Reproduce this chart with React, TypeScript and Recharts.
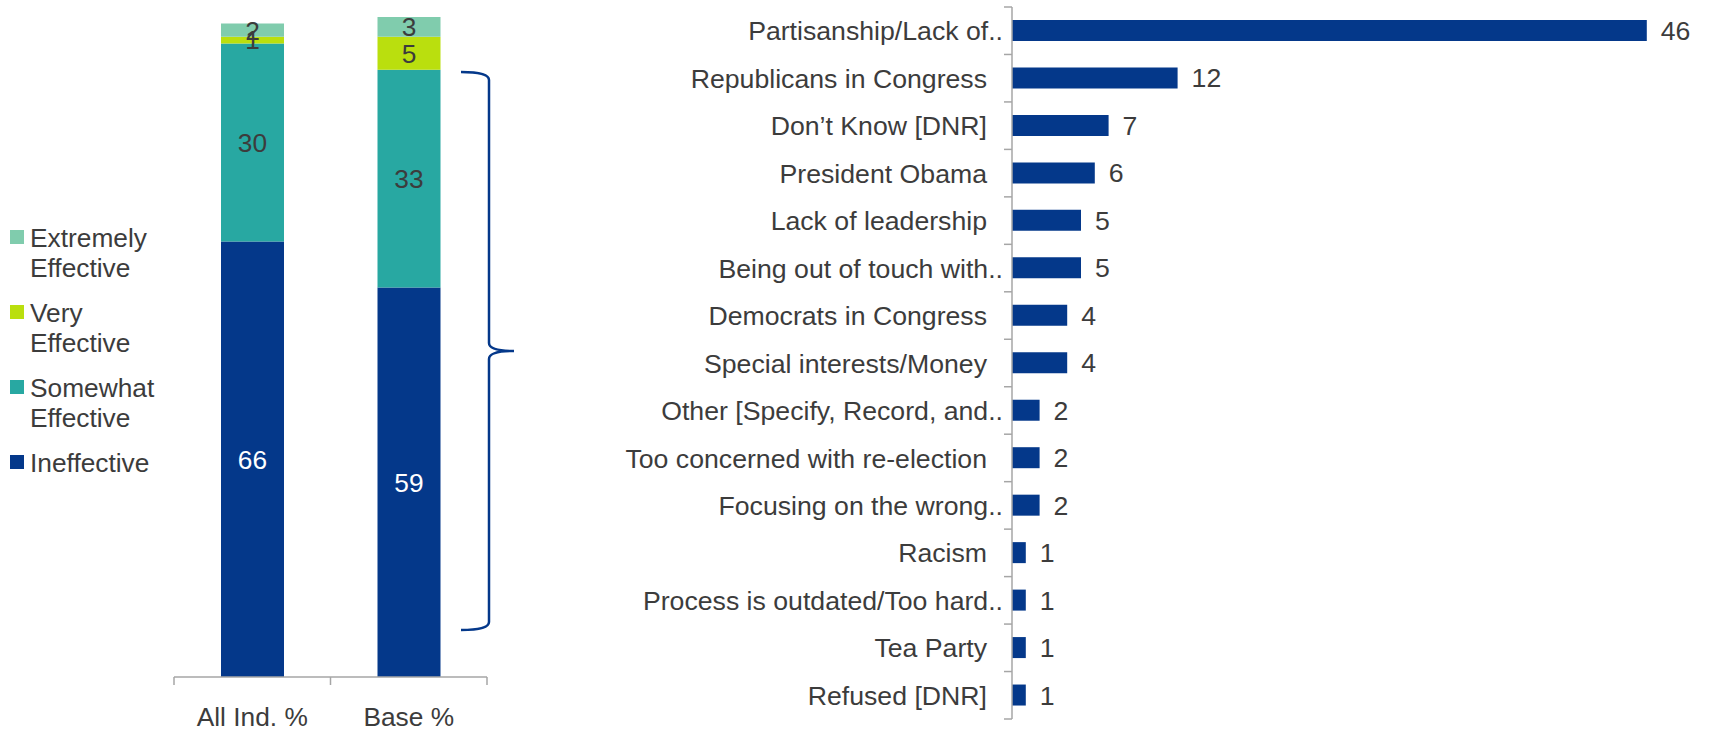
import React from 'react';
import { BarChart, Bar, XAxis, YAxis, LabelList } from 'recharts';

// ---- Left chart data ----
const groups = ['All Ind. %', 'Base %'];
const ineffective = [66, 59];
const somewhat = [30, 33];
const very = [1, 5];
const extremely = [2, 3];

const seriesNames = ['Extremely Effective', 'Very Effective', 'Somewhat Effective', 'Ineffective'];
const seriesLines = [['Extremely', 'Effective'], ['Very', 'Effective'], ['Somewhat', 'Effective'], ['Ineffective']];
const seriesColors = ['#80CCAD', '#BADF0E', '#28A8A2', '#04388A'];

// ---- Right chart data ----
const reasons = [
  'Partisanship/Lack of..',
  'Republicans in Congress',
  'Don\u2019t Know [DNR]',
  'President Obama',
  'Lack of leadership',
  'Being out of touch with..',
  'Democrats in Congress',
  'Special interests/Money',
  'Other [Specify, Record, and..',
  'Too concerned with re-election',
  'Focusing on the wrong..',
  'Racism',
  'Process is outdated/Too hard..',
  'Tea Party',
  'Refused [DNR]',
];
const reasonValues = [46, 12, 7, 6, 5, 5, 4, 4, 2, 2, 2, 1, 1, 1, 1];

const leftData = groups.map((g, i) => ({
  name: g,
  ineffective: ineffective[i],
  somewhat: somewhat[i],
  very: very[i],
  extremely: extremely[i],
}));
const rightData = reasons.map((r, i) => ({ name: r, value: reasonValues[i] }));

const FONT = '"Liberation Sans", Arial, sans-serif';
const TEXT = '#3C3C3C';
const AXIS = '#A6A6A6';
const FS_LEFT = 26.3;
const FS_RIGHT = 26.67;

const LEFT_W = 520;
const LEFT_H = 735;
const LEFT_MARGIN = { top: 17, right: 33, left: 174, bottom: 18 };
const LEFT_HALF_BAND = (LEFT_W - LEFT_MARGIN.left - LEFT_MARGIN.right) / groups.length / 2;

const RIGHT_W = 1169;
const RIGHT_H = 735;
const RIGHT_MARGIN = { top: 7, right: 7, left: 0, bottom: 16 };
const RIGHT_BAND = (RIGHT_H - RIGHT_MARGIN.top - RIGHT_MARGIN.bottom) / reasons.length;

const LeftTick = (props: any) => {
  const { x, y, payload, index } = props;
  return (
    <g>
      <line x1={x - LEFT_HALF_BAND} y1={y} x2={x - LEFT_HALF_BAND} y2={y + 8} stroke={AXIS} strokeWidth={1.5} />
      {index === groups.length - 1 && (
        <line x1={x + LEFT_HALF_BAND} y1={y} x2={x + LEFT_HALF_BAND} y2={y + 8} stroke={AXIS} strokeWidth={1.5} />
      )}
      <text x={x} y={y + 49} textAnchor="middle" fill={TEXT} fontSize={FS_LEFT} fontFamily={FONT}>
        {payload.value}
      </text>
    </g>
  );
};

const RightTick = (props: any) => {
  const { x, y, payload, index } = props;
  const label: string = payload.value;
  const truncated = label.endsWith('..');
  return (
    <g>
      <line x1={x - 8} y1={y - RIGHT_BAND / 2} x2={x} y2={y - RIGHT_BAND / 2} stroke={AXIS} strokeWidth={1.5} />
      {index === reasons.length - 1 && (
        <line x1={x - 8} y1={y + RIGHT_BAND / 2} x2={x} y2={y + RIGHT_BAND / 2} stroke={AXIS} strokeWidth={1.5} />
      )}
      <text x={x - (truncated ? 9 : 25)} y={y} dy="0.36em" textAnchor="end" fill={TEXT} fontSize={FS_RIGHT} fontFamily={FONT}>
        {label}
      </text>
    </g>
  );
};

export default function App() {
  return (
    <div style={{ position: 'absolute', left: 0, top: 0, width: 1709, height: 735, background: '#fff', fontFamily: FONT }}>
      <div style={{ position: 'absolute', left: 0, top: 0 }}>
        <BarChart width={LEFT_W} height={LEFT_H} data={leftData} margin={LEFT_MARGIN}>
          <XAxis
            dataKey="name"
            height={40}
            axisLine={{ stroke: AXIS, strokeWidth: 1.5 }}
            tickLine={false}
            tickSize={0}
            tickMargin={0}
            tick={<LeftTick />}
            interval={0}
          />
          <YAxis hide type="number" domain={[0, 100]} />
          <Bar dataKey="ineffective" stackId="a" fill={seriesColors[3]} barSize={63} isAnimationActive={false}>
            <LabelList dataKey="ineffective" position="center" fill="#FFFFFF" fontSize={FS_LEFT} fontFamily={FONT} />
          </Bar>
          <Bar dataKey="somewhat" stackId="a" fill={seriesColors[2]} barSize={63} isAnimationActive={false}>
            <LabelList dataKey="somewhat" position="center" fill={TEXT} fontSize={FS_LEFT} fontFamily={FONT} />
          </Bar>
          <Bar dataKey="very" stackId="a" fill={seriesColors[1]} barSize={63} isAnimationActive={false}>
            <LabelList dataKey="very" position="center" fill={TEXT} fontSize={FS_LEFT} fontFamily={FONT} />
          </Bar>
          <Bar dataKey="extremely" stackId="a" fill={seriesColors[0]} barSize={63} isAnimationActive={false}>
            <LabelList dataKey="extremely" position="center" fill={TEXT} fontSize={FS_LEFT} fontFamily={FONT} />
          </Bar>
        </BarChart>
      </div>

      <div style={{ position: 'absolute', left: 540, top: 0 }}>
        <BarChart width={RIGHT_W} height={RIGHT_H} data={rightData} layout="vertical" margin={RIGHT_MARGIN}>
          <XAxis type="number" hide domain={[0, 50]} />
          <YAxis
            type="category"
            dataKey="name"
            width={472}
            axisLine={{ stroke: AXIS, strokeWidth: 1.5 }}
            tickLine={false}
            tickSize={0}
            tickMargin={0}
            tick={<RightTick />}
            interval={0}
          />
          <Bar dataKey="value" fill={seriesColors[3]} barSize={21} isAnimationActive={false}>
            <LabelList dataKey="value" position="right" offset={14} fill={TEXT} fontSize={FS_RIGHT} fontFamily={FONT} />
          </Bar>
        </BarChart>
      </div>

      {/* Legend + brace annotation */}
      <svg style={{ position: 'absolute', left: 0, top: 0 }} width={540} height={735}>
        {seriesNames.map((n, i) => (
          <g key={n}>
            <rect x={10} y={230 + i * 75} width={14} height={14} fill={seriesColors[i]} />
            {seriesLines[i].map((line, j) => (
              <text key={j} x={30} y={247 + i * 75 + j * 30} fill={TEXT} fontSize={FS_LEFT} fontFamily={FONT}>
                {line}
              </text>
            ))}
          </g>
        ))}
        <path
          d="M461,72 Q489,72 489,80 L489,343 Q489,351 514,351 Q489,351 489,359 L489,622 Q489,630 461,630"
          fill="none"
          stroke="#04388A"
          strokeWidth={2.5}
        />
      </svg>
    </div>
  );
}
